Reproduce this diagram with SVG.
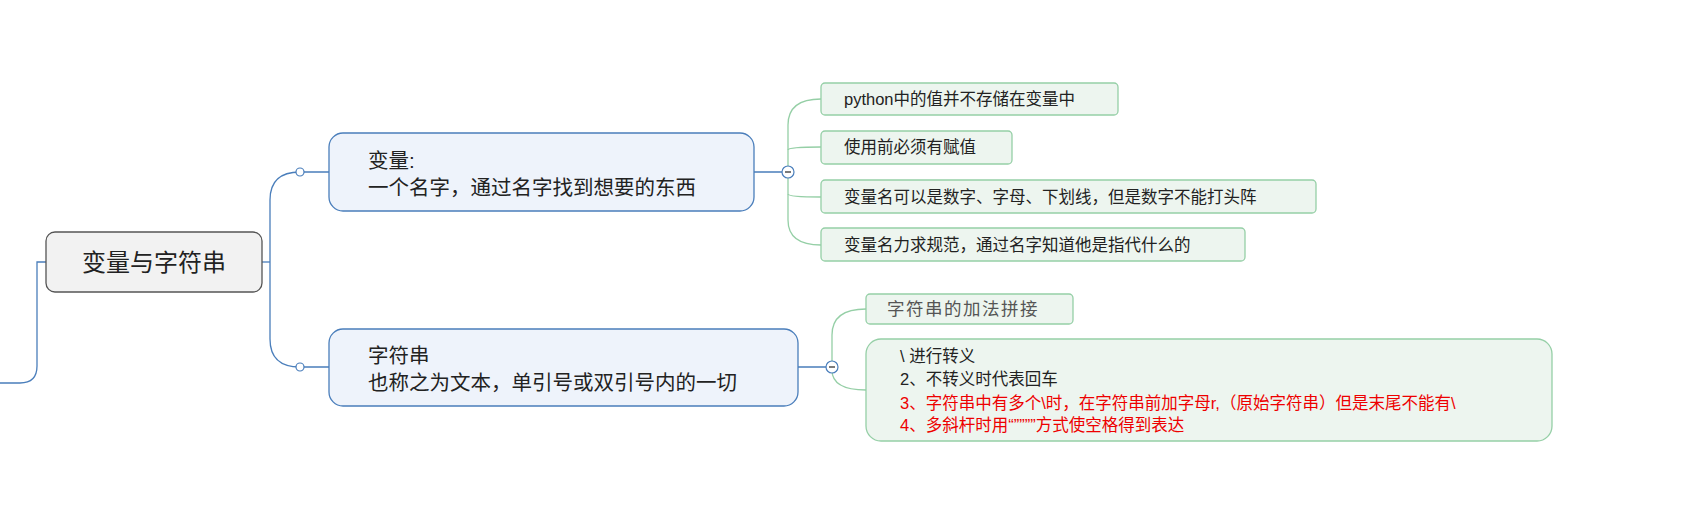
<svg xmlns="http://www.w3.org/2000/svg" width="1692" height="515" viewBox="0 0 1692 515">
<style>
text{font-family:"Liberation Sans","Noto Sans CJK SC",sans-serif;fill:#222;dominant-baseline:central}
.b{fill:none;stroke:#4a7ebb;stroke-width:1.3}
.g{fill:none;stroke:#95cfa6;stroke-width:1.3}
.n{fill:#eef3fb;stroke:#4a7ebb;stroke-width:1.3}
.l{fill:#edf5ef;stroke:#95cfa6;stroke-width:1.3}
.c{fill:#fff;stroke:#4a7ebb;stroke-width:1.2}
</style>
<rect width="1692" height="515" fill="#fff"/>
<g id="connectors">
<path class="b" d="M0 383 H20 Q37 383 37 366 V262 H46"/>
<path class="b" d="M262 262 H270"/>
<path class="b" d="M300 172 Q270 172 270 200 V339 Q270 367 300 367"/>
<path class="b" d="M304 172 H329 M304 367 H329"/>
<path class="b" d="M754 172 H783 M798 367 H827"/>
<path class="g" d="M821 99 Q788 99 788 125 V220 Q788 245 821 245"/>
<path class="g" d="M788 150 Q788 147 821 147 M788 194 Q788 197 821 197"/>
<path class="g" d="M866 309 Q832 309 832 335 V364 M832 370 Q832 390 866 390"/>
<circle class="c" cx="300" cy="172" r="4"/>
<circle class="c" cx="300" cy="367" r="4"/>
<circle class="c" cx="788" cy="172" r="6"/><path d="M785 172 H791" stroke="#333" stroke-width="1.3"/>
<circle class="c" cx="832" cy="367" r="6"/><path d="M829 367 H835" stroke="#333" stroke-width="1.3"/>
</g>
<g id="root"><rect x="46" y="232" width="216" height="60" rx="9" fill="#f2f2f2" stroke="#555" stroke-width="1.3"/><text x="154" y="262" font-size="24" text-anchor="middle">变量与字符串</text></g>
<g id="var"><rect class="n" x="329" y="133" width="425" height="78" rx="14"/><text x="368" y="160" font-size="20.5">变量:</text><text x="368" y="187" font-size="20.5">一个名字，通过名字找到想要的东西</text></g>
<g id="str"><rect class="n" x="329" y="329" width="469" height="77" rx="14"/><text x="368" y="355" font-size="20.5">字符串</text><text x="368" y="382" font-size="20.5">也称之为文本，单引号或双引号内的一切</text></g>
<g id="l1"><rect class="l" x="821" y="83" width="297" height="32" rx="4"/><text x="844" y="99" font-size="16.5">python中的值并不存储在变量中</text></g>
<g id="l2"><rect class="l" x="821" y="131" width="191" height="33" rx="4"/><text x="844" y="147" font-size="16.5">使用前必须有赋值</text></g>
<g id="l3"><rect class="l" x="821" y="180" width="495" height="33" rx="4"/><text x="844" y="197" font-size="16.5">变量名可以是数字、字母、下划线，但是数字不能打头阵</text></g>
<g id="l4"><rect class="l" x="821" y="228" width="424" height="33" rx="4"/><text x="844" y="245" font-size="16.5">变量名力求规范，通过名字知道他是指代什么的</text></g>
<g id="s1"><rect class="l" x="866" y="294" width="207" height="30" rx="4"/><text x="887" y="309" font-size="17.5" letter-spacing="1.5" style="fill:#555">字符串的加法拼接</text></g>
<g id="s2"><rect class="l" x="866" y="339" width="686" height="102" rx="15"/>
<text x="900" y="356" font-size="16.5">\ 进行转义</text>
<text x="900" y="379" font-size="16.5">2、不转义时代表回车</text>
<text x="900" y="403" font-size="16.5" style="fill:#e00">3、字符串中有多个\时，在字符串前加字母r,（原始字符串）但是末尾不能有\</text>
<text x="900" y="425" font-size="16.5" style="fill:#e00">4、多斜杆时用“””””方式使空格得到表达</text></g>
</svg>
